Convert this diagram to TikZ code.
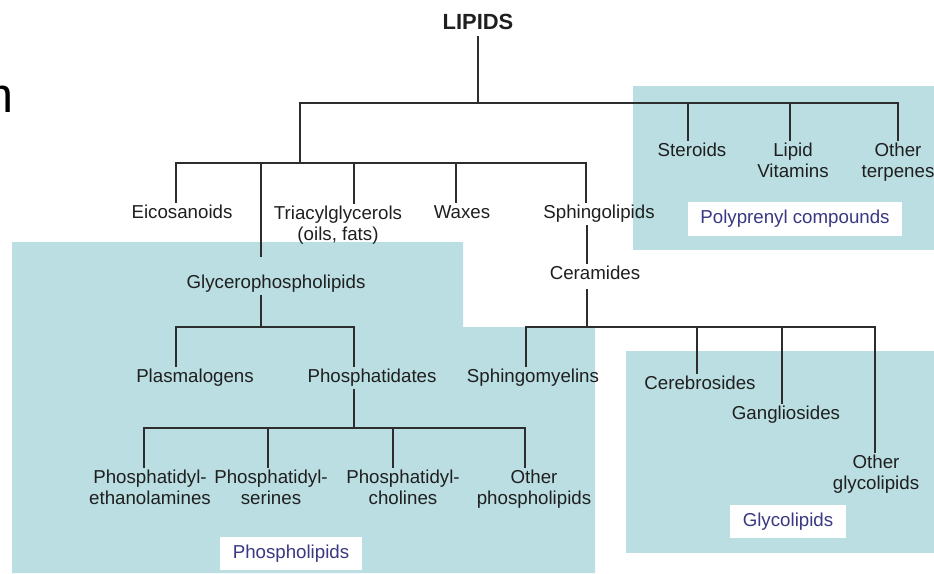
\documentclass[tikz,border=0pt]{standalone}
\usepackage{fontspec}
\setmainfont{Liberation Sans}
\definecolor{panelblue}{RGB}{186,222,226}
\definecolor{tagink}{RGB}{58,56,130}
\definecolor{wire}{RGB}{45,45,45}

\begin{document}
\begin{tikzpicture}[
  x=0.025cm, y=-0.025cm,
  term/.style={align=center, inner sep=2pt, text=black!88,
    font=\fontsize{13.3}{15}\selectfont},
  tag/.style={fill=white, text=tagink, inner xsep=9pt, inner ysep=0pt,
    minimum height=0.84cm, font=\fontsize{13.3}{15}\selectfont},
  link/.style={draw=wire, line width=0.8pt, line cap=rect},
  panel/.style={fill=panelblue}
]
\useasboundingbox[fill=white] (0,0) rectangle (934,573);

% shaded groups
\fill[panel] (12,242) -- (463,242) -- (463,327) -- (595,327)
  -- (595,573) -- (12,573) -- cycle;
\fill[panel] (633,86) rectangle (934,250);
\fill[panel] (626,351) rectangle (934,553);

% cut-off letter at the left edge
\node[anchor=base east, inner sep=0pt, font=\fontsize{35}{40}\selectfont] (cut) at (14,112) {m};

\node[term, anchor=base, inner sep=5pt, font=\fontsize{15.6}{18}\selectfont\bfseries] (lipids)
  at (478,29.5) {LIPIDS};

\node[term, anchor=base] (eico) at (182,218.7) {Eicosanoids};
\node[term] (tri) at (338,225.5) {Triacylglycerols\\(oils, fats)};
\node[term, anchor=base] (waxes) at (462,218.7) {Waxes};
\node[term, anchor=base] (sphingo) at (599,218.7) {Sphingolipids};
\node[term, anchor=base] (steroids) at (692,156.7) {Steroids};
\node[term] (vitamins) at (793,160.5) {Lipid\\Vitamins};
\node[term] (terpenes) at (898,162.5) {Other\\terpenes};
\node[term, anchor=base] (glycero) at (276,288.7) {Glycerophospholipids};
\node[term, anchor=base] (ceram) at (595,279.7) {Ceramides};
\node[term, anchor=base] (plasmal) at (195,382.7) {Plasmalogens};
\node[term, anchor=base] (phosphat) at (372,382.7) {Phosphatidates};
\node[term, anchor=base] (sphingom) at (533,382.7) {Sphingomyelins};
\node[term, anchor=base] (cerebro) at (700,389.7) {Cerebrosides};
\node[term, anchor=base] (gangl) at (786,419.7) {Gangliosides};
\node[term] (otherglyco) at (876,474.5) {Other\\glycolipids};
\node[term] (pe) at (150,487.5) {Phosphatidyl-\\ethanolamines};
\node[term] (ps) at (271,487.5) {Phosphatidyl-\\serines};
\node[term] (pc) at (403,487.5) {Phosphatidyl-\\cholines};
\node[term] (otherpl) at (534,489.5) {Other\\phospholipids};

% group names
\node[tag] (polytag) at (795,219) {Polyprenyl compounds};
\node[tag] (glycotag) at (788,521.5) {Glycolipids};
\node[tag] (phostag) at (291,553.5) {Phospholipids};

% branch points
\coordinate (top) at (478,103);
\coordinate (topL) at (300,103);
\coordinate (topS) at (688,103);
\coordinate (topV) at (790,103);
\coordinate (topO) at (898,103);
\coordinate (mid) at (300,163);
\coordinate (midE) at (176,163);
\coordinate (midG) at (261,163);
\coordinate (midT) at (354,163);
\coordinate (midW) at (456,163);
\coordinate (midS) at (586,163);
\coordinate (gly) at (261,327);
\coordinate (glyP) at (176,327);
\coordinate (glyA) at (354,327);
\coordinate (cer) at (587,327);
\coordinate (cerM) at (526,327);
\coordinate (cerC) at (697,327);
\coordinate (cerG) at (782,327);
\coordinate (cerO) at (875,327);
\coordinate (pho) at (354,428);
\coordinate (phoE) at (144,428);
\coordinate (phoS) at (268,428);
\coordinate (phoC) at (393,428);
\coordinate (phoO) at (525,428);

\draw[link] (lipids) -- (top);
\draw[link] (mid) -- (topL) -- (topO) -- (topO |- terpenes.north);
\draw[link] (topS) -- (topS |- steroids.north);
\draw[link] (topV) -- (topV |- vitamins.north);

\draw[link] (midE) -- (midS);
\draw[link] (midE) -- (midE |- eico.north);
\draw[link, shorten >=11pt] (midG) -- (midG |- glycero.north);
\draw[link] (midT) -- (midT |- tri.north);
\draw[link] (midW) -- (midW |- waxes.north);
\draw[link] (midS) -- (midS |- sphingo.north);

\draw[link] (sphingo.south -| cer) -- (ceram.north -| cer);
\draw[link, shorten <=5pt] (ceram.south -| cer) -- (cer);
\draw[link] (cerM) -- (cerO) -- (cerO |- otherglyco.north);
\draw[link] (cerM) -- (cerM |- sphingom.north);
\draw[link] (cerC) -- (cerC |- cerebro.north);
\draw[link] (cerG) -- (cerG |- gangl.north);

\draw[link] (glycero.south -| gly) -- (gly);
\draw[link] (glyP) -- (glyA);
\draw[link] (glyP) -- (glyP |- plasmal.north);
\draw[link] (glyA) -- (glyA |- phosphat.north);

\draw[link] (phosphat.south -| pho) -- (pho);
\draw[link] (phoE) -- (phoO);
\draw[link] (phoE) -- (phoE |- pe.north);
\draw[link] (phoS) -- (phoS |- ps.north);
\draw[link] (phoC) -- (phoC |- pc.north);
\draw[link] (phoO) -- (phoO |- otherpl.north);
\end{tikzpicture}
\end{document}
